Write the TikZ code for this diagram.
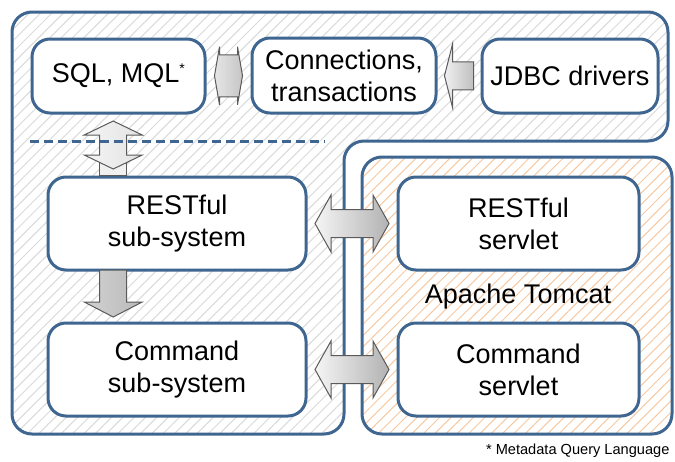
\documentclass[tikz,border=0pt]{standalone}
\usepackage{fontspec}
\setmainfont{Liberation Sans}
\usetikzlibrary{calc,patterns.meta}
\definecolor{frameblue}{HTML}{3F6690}
\definecolor{hatchgrey}{HTML}{DADADA}
\definecolor{hatchorange}{HTML}{F7C9A2}
\definecolor{arrowedge}{HTML}{5A5A5A}

\tikzset{
	box/.style={draw=frameblue, line width=3pt, fill=white, rounded corners=18pt,
		align=center, inner sep=0pt},
	blockarrow/.style={draw=arrowedge, line width=1pt},
	% two-headed block arrow: half length, half shaft, half head, head length
	pics/twoway/.style n args={4}{code={
		\path[blockarrow, pic actions] (-#1,0) -- (-#1+#4,-#3) -- (-#1+#4,-#2)
			-- (#1-#4,-#2) -- (#1-#4,-#3) -- (#1,0) -- (#1-#4,#3) -- (#1-#4,#2)
			-- (-#1+#4,#2) -- (-#1+#4,#3) -- cycle;
	}},
	% one-headed block arrow, pointing to -x
	pics/oneway/.style n args={4}{code={
		\path[blockarrow, pic actions] (-#1,0) -- (-#1+#4,-#3) -- (-#1+#4,-#2)
			-- (#1,-#2) -- (#1,#2) -- (-#1+#4,#2) -- (-#1+#4,#3) -- cycle;
	}},
}

\begin{document}
\begin{tikzpicture}[x=1pt, y=-1pt, font=\fontsize{27}{32}\selectfont]
	\useasboundingbox (0,0) rectangle (675,461);
	% frames
	\draw[frameblue, line width=3pt, rounded corners=20pt, preaction={fill=white},
		pattern={Lines[angle=45, distance=8pt, line width=1pt]}, pattern color=hatchgrey]
		(12,12) -- (668,12) -- (668,141) -- (344,141) -- (344,434) -- (12,434) -- cycle;
	\draw[frameblue, line width=3pt, rounded corners=20pt, preaction={fill=white},
		pattern={Lines[angle=45, distance=8pt, line width=1pt]}, pattern color=hatchorange]
		(362,157) rectangle (672,434);

	\node[box, minimum width=173pt, minimum height=74pt] (sql) at (118.5,76)
		{SQL, MQL\textsuperscript{\fontsize{14}{14}\selectfont*}};
	\node[box, minimum width=184pt, minimum height=75pt] (conn) at (344,75.5)
		{Connections,\\transactions};
	\node[box, minimum width=176pt, minimum height=74pt] (jdbc) at (570,76)
		{JDBC drivers};
	\node[box, minimum width=258pt, minimum height=93pt] (rsub) at (177,223.5)
		{RESTful\\sub-system};
	\node[box, minimum width=258pt, minimum height=93pt] (csub) at (177,369.5)
		{Command\\sub-system};
	\node[box, minimum width=241pt, minimum height=93pt] (rserv) at (518.5,223.5)
		{RESTful\\servlet};
	\node[box, minimum width=241pt, minimum height=93pt] (cserv) at (518.5,369.5)
		{Command\\servlet};
	\node (tomcat) at (518,297) {Apache Tomcat};

	% block arrows
	\pic[left color=gray!20, right color=gray!45] at ($(sql.east)!0.5!(conn.west)$)
		{twoway={14}{21}{29}{5}};
	\pic[left color=gray!12, right color=gray!50] at ($(conn.east)!0.5!(jdbc.west)$)
		{oneway={14.5}{14}{31.5}{8}};
	\coordinate (stem) at ($(sql.south west)!0.47!(sql.south east)$);
	\draw[blockarrow, fill=gray!12] ($(stem |- rsub.north)+(-13.5,0)$)
		rectangle ($(stem |- rsub.north)+(13.5,-17)$);
	\pic[rotate=90, left color=gray!8, right color=gray!22]
		at ($(stem)!0.5!(stem |- rsub.north)$) {twoway={24}{13.5}{29}{14}};
	\pic[rotate=90, left color=gray!35, right color=gray!55]
		at ($(stem |- rsub.south)!0.5!(stem |- csub.north)+(0,-3)$) {oneway={23.5}{13.5}{29}{15}};
	\pic[left color=gray!8, right color=gray!60] at ($(rsub.east)!0.5!(rserv.west)$)
		{twoway={37}{14}{28.5}{16}};
	\pic[left color=gray!8, right color=gray!60] at ($(csub.east)!0.5!(cserv.west)$)
		{twoway={37}{14}{28.5}{16}};

	\draw[frameblue, line width=3pt, dash pattern=on 9pt off 5pt] (30,141) -- (325,141);

	\node[anchor=east, font=\fontsize{14.6}{16}\selectfont] (note) at (673,451)
		{* Metadata Query Language};
\end{tikzpicture}
\end{document}
